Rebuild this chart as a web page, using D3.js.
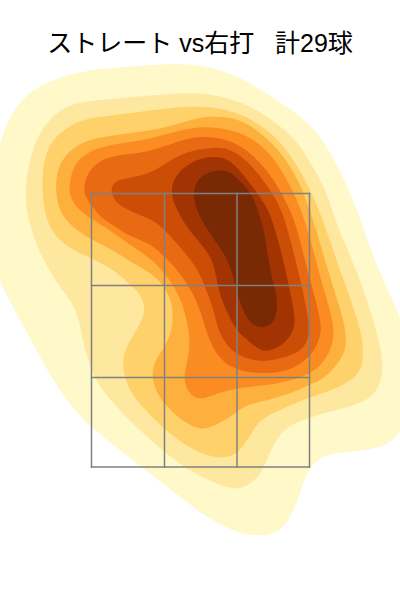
<!DOCTYPE html>
<html><head><meta charset="utf-8">
<script src="https://cdn.jsdelivr.net/npm/d3@7"></script>
<style>html,body{margin:0;padding:0;background:#fff}svg{display:block}</style>
</head><body><div id="c"></div>
<script>
const titleText = "ストレート vs右打   計29球";
const levelColors = ["#fff8c8","#fee79f","#fed16b","#feb03f","#fb8c22","#e86a13","#cc4d05","#a23403","#7a2905"];
const zoneX = [-108.5,-35.5,37,109.5];
const zoneY = [406.5,314.5,222.5,133];
const level1 = [[-208,340],[-208,410],[-203,450],[-190,487],[-167,512],[-133,526],[-100,531],[-67,534],[-33,536],[0,536],[40,524],[80,498],[106,480],[123,460],[140,430],[153,400],[160,382],[172,347],[186,313],[200,285],[220,220],[200,156],[167,150],[133,147],[120,142],[110,133],[103,117],[97,97],[88,78],[77,67],[60,64],[40,66],[20,76],[0,87],[-50,127],[-83,152],[-110,173],[-130,195],[-147,220],[-160,243],[-173,268],[-197,310]];
const level2 = [[-175,405],[-173,427],[-167,453],[-157,473],[-143,488],[-127,497],[-100,500],[-67,503],[-33,506],[0,508],[40,500],[73,480],[97,460],[113,433],[127,407],[135,380],[149,347],[163,313],[173,280],[181,253],[184,223],[173,202],[150,193],[123,187],[110,182],[93,177],[78,165],[68,143],[62,128],[53,118],[43,112],[32,111],[17,116],[0,124],[-20,135],[-53,163],[-73,182],[-97,208],[-108,227],[-117,257],[-120,277],[-127,297],[-138,310],[-150,328],[-163,353],[-172,380]];
const level3 = [[-158,410],[-157,437],[-150,457],[-137,470],[-120,480],[-100,483],[-67,487],[-33,492],[0,494],[27,491],[54,480],[80,460],[98,433],[112,407],[123,380],[134,347],[146,313],[158,280],[164,253],[162,230],[150,218],[127,208],[110,203],[87,193],[63,183],[53,170],[43,153],[35,145],[20,141],[0,147],[-20,158],[-40,175],[-60,195],[-73,213],[-78,235],[-75,252],[-63,270],[-53,290],[-60,307],[-70,315],[-83,328],[-108,342],[-128,350],[-145,363],[-155,383]];
const level4 = [[-144,417],[-142,433],[-133,447],[-120,457],[-100,463],[-67,467],[-33,472],[0,484],[25,483],[42,480],[67,463],[87,440],[102,413],[113,380],[123,347],[133,313],[144,280],[147,257],[143,243],[127,223],[110,215],[87,205],[60,198],[47,195],[36,188],[30,183],[13,173],[0,170],[-17,178],[-35,195],[-45,210],[-49,228],[-43,243],[-35,253],[-28,270],[-27,283],[-28,297],[-36,315],[-50,328],[-70,338],[-83,348],[-108,360],[-127,372],[-140,387],[-144,405]];
const level5 = [[-131,413],[-128,430],[-120,443],[-100,454],[-67,458],[-43,463],[-20,470],[5,474],[30,471],[57,460],[77,438],[93,410],[105,380],[114,347],[123,313],[133,280],[134,263],[130,247],[117,230],[100,222],[80,217],[60,214],[36,212],[13,205],[0,200],[-10,205],[-16,217],[-15,230],[-10,250],[-11,270],[-15,287],[-20,303],[-32,323],[-47,340],[-70,355],[-83,365],[-107,380],[-125,393],[-130,405]];
const level6 = [[-116,413],[-113,427],[-100,440],[-83,445],[-57,447],[-37,453],[-13,462],[7,464],[30,460],[50,448],[67,430],[82,407],[95,380],[103,347],[112,313],[121,280],[121,263],[113,247],[100,235],[83,228],[60,226],[36,230],[23,238],[12,253],[6,270],[0,290],[-7,307],[-20,327],[-35,343],[-50,357],[-70,363],[-87,375],[-100,383],[-107,393],[-116,405]];
const level7 = [[-91,411],[-83,421],[-63,423],[-43,430],[-27,442],[-7,450],[17,453],[30,451],[47,440],[63,420],[77,400],[85,380],[94,347],[102,313],[109,280],[109,260],[100,248],[83,242],[60,237],[36,245],[25,257],[18,270],[13,293],[5,313],[-3,333],[-20,353],[-35,370],[-47,380],[-67,388],[-83,395]];
const level8 = [[-29,407],[-27,420],[-17,433],[0,442],[17,444],[30,440],[42,427],[55,410],[67,393],[72,380],[82,347],[89,313],[96,280],[93,267],[83,255],[70,249],[60,249],[45,262],[36,270],[27,287],[18,310],[15,333],[7,350],[-12,370],[-25,393]];
const level9 = [[-7,407],[-3,421],[10,429],[23,430],[31,428],[42,417],[53,405],[61,380],[65,365],[67,347],[74,313],[78,300],[76,279],[65,272],[52,273],[41,293],[35,315],[31,333],[22,350],[7,370],[-4,390]];
const levels = [level1,level2,level3,level4,level5,level6,level7,level8,level9];

const W=400,H=600;
const x=d3.scaleLinear().domain([-200,200]).range([0,W]);
const y=d3.scaleLinear().domain([0,600]).range([H,0]);
const svg=d3.select("#c").append("svg").attr("width",W).attr("height",H);
const line=d3.line().x(d=>x(d[0])).y(d=>y(d[1])).curve(d3.curveBasisClosed);
svg.selectAll("path.level").data(levels).join("path").attr("class","level")
  .attr("d",line).attr("fill",(d,i)=>levelColors[i]);
const g=svg.append("g").attr("fill","none").attr("stroke","#808080").attr("stroke-width",1.5);
g.selectAll("line.v").data(zoneX).join("line").attr("class","v")
  .attr("x1",d=>x(d)).attr("x2",d=>x(d)).attr("y1",y(zoneY[0])-0.75).attr("y2",y(zoneY[3])+0.75);
g.selectAll("line.h").data(zoneY).join("line").attr("class","h")
  .attr("y1",d=>y(d)).attr("y2",d=>y(d)).attr("x1",x(zoneX[0])-0.75).attr("x2",x(zoneX[3])+0.75);
svg.append("text").attr("x",200).attr("y",52).attr("text-anchor","middle").style("white-space","pre")
  .attr("font-family","'Liberation Sans','Noto Sans CJK JP'").attr("font-size",25).attr("fill","#000").text(titleText);
</script></body></html>
